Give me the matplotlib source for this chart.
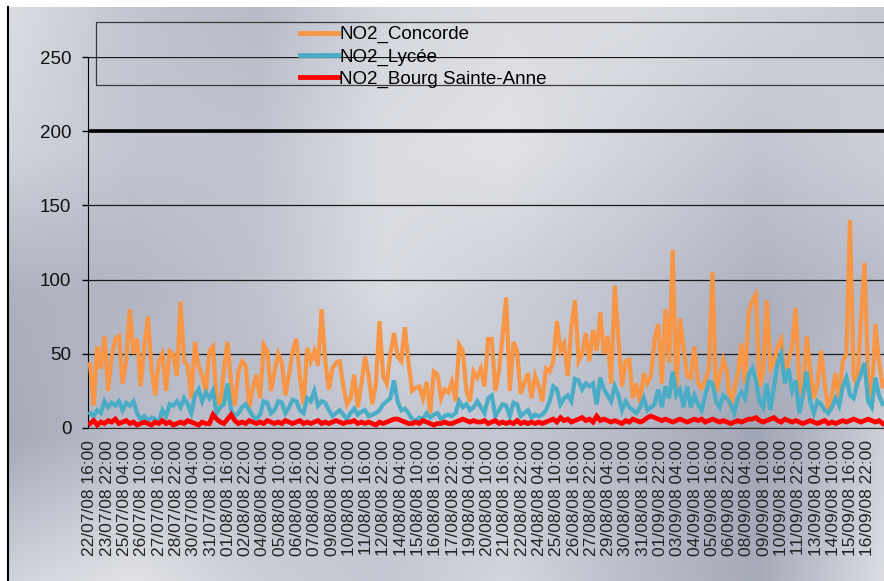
import numpy as np
import matplotlib
matplotlib.use("Agg")
import matplotlib.pyplot as plt
from matplotlib.patches import Rectangle
from matplotlib.lines import Line2D

plt.rcParams['font.family'] = ['Liberation Sans', 'DejaVu Sans']

# ---------------- data ----------------
series_names = ["NO2_Concorde", "NO2_Lycée", "NO2_Bourg Sainte-Anne"]

tick_labels = [
    "22/07/08 16:00", "23/07/08 22:00", "25/07/08 04:00", "26/07/08 10:00",
    "27/07/08 16:00", "28/07/08 22:00", "30/07/08 04:00", "31/07/08 10:00",
    "01/08/08 16:00", "02/08/08 22:00", "04/08/08 04:00", "05/08/08 10:00",
    "06/08/08 16:00", "07/08/08 22:00", "09/08/08 04:00", "10/08/08 10:00",
    "11/08/08 16:00", "12/08/08 22:00", "14/08/08 04:00", "15/08/08 10:00",
    "16/08/08 16:00", "17/08/08 22:00", "19/08/08 04:00", "20/08/08 10:00",
    "21/08/08 16:00", "22/08/08 22:00", "24/08/08 04:00", "25/08/08 10:00",
    "26/08/08 16:00", "27/08/08 22:00", "29/08/08 04:00", "30/08/08 10:00",
    "31/08/08 16:00", "01/09/08 22:00", "03/09/08 04:00", "04/09/08 10:00",
    "05/09/08 16:00", "06/09/08 22:00", "08/09/08 04:00", "09/09/08 10:00",
    "10/09/08 16:00", "11/09/08 22:00", "13/09/08 04:00", "14/09/08 10:00",
    "15/09/08 16:00", "16/09/08 22:00",
]
TICK_STEP_H = 30          # hours between two axis labels
SAMPLE_STEP_H = 6.28      # hours between two values

concorde = [
    43, 15, 55, 40, 62, 25, 48, 60, 62, 30, 45, 80, 50, 60, 28, 55, 75, 40, 22, 45,
    50, 25, 52, 50, 35, 85, 45, 42, 20, 58, 42, 35, 25, 52, 55, 18,
    15, 40, 58, 30, 15, 38, 45, 42, 14, 27, 36, 20, 56, 52, 25, 38, 50, 44, 22, 36,
    52, 60, 34, 16, 54, 45, 52, 42, 80, 45, 26, 40, 44, 45, 28, 16,
    20, 36, 14, 30, 48, 35, 16, 30, 72, 35, 30, 50, 64, 48, 45, 68, 44, 25, 27, 28,
    20, 31, 10, 38, 36, 20, 26, 24, 31, 18, 56, 52, 25, 18, 38, 34,
    40, 28, 60, 60, 25, 38, 62, 88, 25, 58, 52, 23, 30, 37, 20, 35, 28, 18, 40, 38,
    45, 72, 52, 57, 35, 68, 86, 45, 50, 64, 45, 66, 52, 78, 50, 62, 30,
    96, 60, 28, 45, 46, 20, 30, 17, 37, 30, 35, 60, 70, 30, 80, 44, 120, 25, 74, 55,
    35, 34, 55, 30, 27, 32, 40, 105, 24, 35, 46, 38, 14, 26, 37, 57, 30, 78,
    86, 90, 28, 37, 86, 40, 44, 55, 60, 34, 45, 55, 81, 30, 20, 62, 40, 20, 30, 52,
    30, 12, 22, 37, 20, 45, 50, 140, 35, 28, 72, 111, 35, 20, 70, 45, 28,
]

lycee = [
    10, 8, 12, 10, 18, 14, 17, 15, 18, 12, 17, 15, 18, 10, 6, 8, 5, 7, 6, 4,
    12, 8, 16, 15, 18, 14, 20, 16, 10, 22, 26, 18, 24, 20, 25, 10,
    14, 16, 30, 12, 8, 10, 14, 16, 12, 8, 6, 9, 18, 17, 10, 12, 18, 17, 10, 14,
    19, 18, 12, 10, 20, 18, 25, 15, 18, 17, 12, 8, 10, 12, 9, 6,
    10, 13, 9, 11, 12, 8, 9, 10, 12, 16, 18, 20, 32, 18, 12, 13, 10, 6, 5, 7,
    6, 10, 7, 9, 10, 6, 8, 9, 8, 10, 18, 14, 16, 12, 14, 18,
    14, 10, 20, 22, 8, 12, 16, 15, 8, 17, 16, 8, 10, 12, 7, 9, 8, 9, 12, 18,
    28, 26, 16, 20, 22, 18, 33, 32, 26, 30, 28, 30, 16, 34, 26, 22, 18,
    28, 22, 12, 18, 14, 12, 10, 14, 20, 12, 14, 16, 26, 14, 28, 20, 38, 22, 26, 14,
    28, 14, 22, 16, 12, 22, 31, 30, 18, 14, 22, 20, 16, 10, 20, 24, 20, 36,
    40, 32, 18, 14, 30, 12, 28, 44, 50, 30, 40, 25, 32, 10, 22, 38, 18, 10, 18, 16,
    12, 10, 14, 20, 15, 28, 34, 22, 20, 30, 36, 44, 18, 14, 34, 22, 16,
]

bourg = [
    3, 5, 2, 4, 3, 5, 4, 6, 3, 4, 5, 3, 4, 2, 3, 4, 3, 2, 4, 3,
    5, 3, 4, 2, 3, 4, 3, 5, 4, 3, 2, 4, 3, 3, 9, 6,
    4, 3, 6, 9, 5, 3, 4, 3, 5, 4, 3, 4, 3, 5, 4, 3, 4, 3, 5, 4,
    3, 4, 5, 3, 4, 3, 4, 5, 3, 4, 3, 4, 5, 4, 3, 4,
    4, 5, 3, 4, 3, 4, 3, 2, 4, 3, 4, 5, 6, 6, 5, 4, 3, 3, 4, 3,
    5, 4, 3, 2, 3, 3, 4, 3, 3, 4, 5, 6, 5, 4, 5, 4,
    4, 5, 3, 4, 5, 3, 4, 3, 4, 3, 5, 3, 4, 3, 4, 3, 4, 3, 4, 5,
    6, 4, 7, 5, 6, 4, 5, 6, 7, 5, 6, 4, 8, 5, 6, 5, 4,
    5, 4, 3, 5, 4, 6, 5, 4, 5, 7, 8, 7, 6, 5, 6, 5, 4, 5, 6, 5,
    4, 5, 6, 5, 6, 4, 5, 6, 5, 4, 5, 4, 3, 4, 5, 4, 5, 6,
    6, 7, 5, 4, 5, 6, 7, 5, 4, 6, 5, 4, 5, 4, 3, 4, 5, 4, 3, 4,
    5, 3, 4, 3, 4, 5, 4, 5, 6, 5, 4, 5, 6, 5, 4, 5, 3,
]

threshold = 200
yticks = [0, 50, 100, 150, 200, 250]

# ---------------- figure ----------------
W, H = 884, 581
fig = plt.figure(figsize=(W / 100, H / 100), dpi=100)
fig.patch.set_facecolor('white')

# metallic background of the chart area
bg = fig.add_axes([8 / W, 0, 1 - 8 / W, 1 - 7 / H], zorder=0)
lum = np.array([
    [0.86, 0.76, 0.72, 0.83, 0.86, 0.86, 0.82, 0.78],
    [0.82, 0.76, 0.76, 0.86, 0.88, 0.82, 0.76, 0.80],
    [0.68, 0.70, 0.75, 0.85, 0.80, 0.75, 0.68, 0.72],
    [0.65, 0.73, 0.73, 0.76, 0.77, 0.71, 0.63, 0.80],
    [0.82, 0.88, 0.80, 0.77, 0.83, 0.73, 0.65, 0.86],
])
nx, ny = 400, 260
xs = np.linspace(0, lum.shape[1] - 1, nx)
ys = np.linspace(0, lum.shape[0] - 1, ny)
tmp = np.array([np.interp(xs, np.arange(lum.shape[1]), row) for row in lum])
L = np.array([np.interp(ys, np.arange(lum.shape[0]), col) for col in tmp.T]).T
img = np.dstack([L, L + 0.05 * (1 - L), np.clip(L + 0.22 * (1 - L), 0, 1)])
bg.imshow(img, aspect='auto', interpolation='bilinear', extent=(0, 1, 0, 1))
bg.set_axis_off()
fig.add_artist(Line2D([8 / W, 8 / W], [0, 1 - 7 / H], color='black', lw=1.5,
                      transform=fig.transFigure))

# plot area
ax = fig.add_axes([88 / W, 1 - 428 / H, 1 - 88 / W, (428 - 57) / H], zorder=2)
ax.set_facecolor('none')

colors = ['#F79646', '#4BACC6', '#FF0000']
widths = [3.0, 3.0, 3.4]
handles = []
for vals, c, w, name in zip([concorde, lycee, bourg], colors, widths, series_names):
    hrs = np.arange(len(vals)) * SAMPLE_STEP_H
    ln, = ax.plot(hrs, vals, color=c, lw=w, solid_joinstyle='miter', zorder=3,
                  label=name)
    handles.append(ln)

ax.axhline(threshold, color='black', lw=2.6, zorder=2)

px_per_h = 778 / ((len(tick_labels) - 1) * TICK_STEP_H)
ax.set_xlim(-2 / px_per_h, 794 / px_per_h)
ax.set_ylim(yticks[0], yticks[-1])

ax.set_xticks(np.arange(len(tick_labels)) * TICK_STEP_H)
ax.set_xticklabels(tick_labels, rotation=90, fontsize=12.5, color='#222222')
ax.tick_params(axis='x', length=0, pad=8.5)
ax.set_yticks(yticks)
ax.set_yticklabels([str(v) for v in yticks], fontsize=13.5, color='#111111')
ax.tick_params(axis='y', length=4, width=1, pad=8, color='black')

ax.yaxis.grid(True, color='#1a1a1a', lw=0.9, zorder=1)
ax.set_axisbelow(True)
for s in ['top', 'right']:
    ax.spines[s].set_visible(False)
ax.spines['left'].set_color('black')
ax.spines['bottom'].set_color('#333333')

# legend box + entries
fig.add_artist(Rectangle((96 / W, 1 - 85 / H), (900 - 96) / W, 63 / H,
                         fill=False, edgecolor='#3a3a3a', lw=0.9,
                         transform=fig.transFigure, zorder=5))
leg = fig.legend(handles=handles, labels=series_names, loc='upper left',
                 bbox_to_anchor=(300 / W, 1 - 26 / H), frameon=False, fontsize=13.5,
                 handlelength=2.0, handletextpad=0.1, labelspacing=0.26,
                 borderpad=0, borderaxespad=0)
for lh in leg.get_lines():
    lh.set_linewidth(3.5)

fig.savefig('out.png', dpi=100, facecolor='white')
